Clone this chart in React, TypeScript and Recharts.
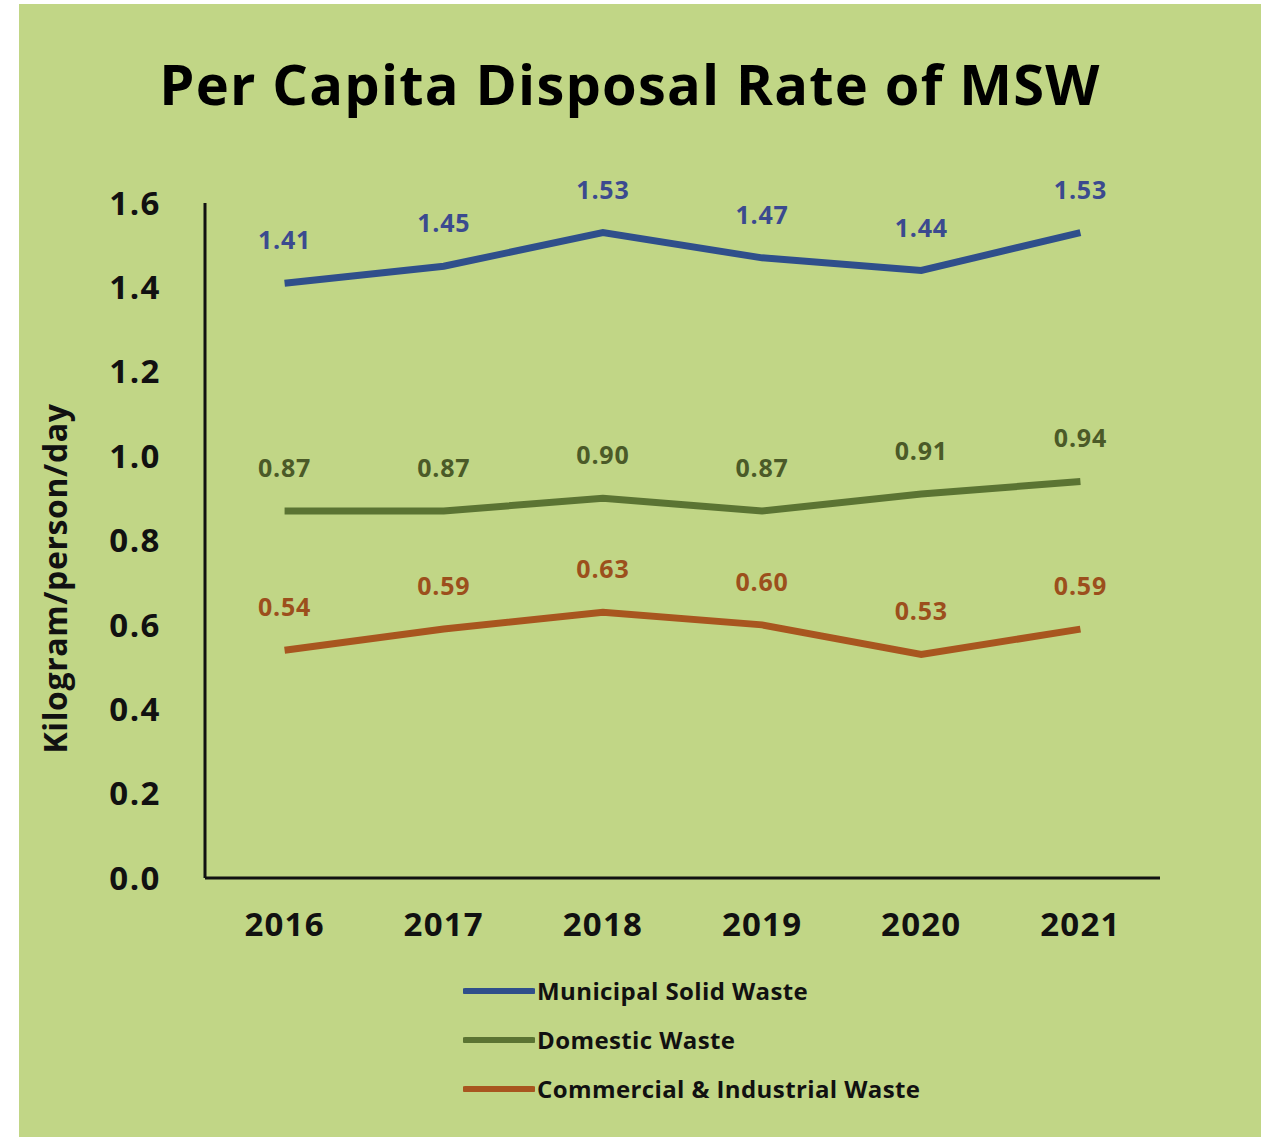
import React from "react";
import { LineChart, Line, XAxis, YAxis, Legend, LabelList, Label } from "recharts";

const years = ["2016", "2017", "2018", "2019", "2020", "2021"];
const municipal = [1.41, 1.45, 1.53, 1.47, 1.44, 1.53];
const domestic = [0.87, 0.87, 0.9, 0.87, 0.91, 0.94];
const commercial = [0.54, 0.59, 0.63, 0.6, 0.53, 0.59];
const yTicks = [0, 0.2, 0.4, 0.6, 0.8, 1.0, 1.2, 1.4, 1.6];

const series = [
  { key: "municipal", name: "Municipal Solid Waste", color: "#2f4f8b", labelColor: "#3b4a8f" },
  { key: "domestic", name: "Domestic Waste", color: "#5b7433", labelColor: "#4b5a28" },
  { key: "commercial", name: "Commercial & Industrial Waste", color: "#a8561f", labelColor: "#9c4f1c" },
];

const data = years.map((year, i) => ({
  year,
  municipal: municipal[i],
  domestic: domestic[i],
  commercial: commercial[i],
}));

const FONT = "'Open Sans', Lato, sans-serif";
const BG = "#c1d686";

function LegendBox() {
  return (
    <div style={{ fontFamily: FONT }}>
      {series.map((s) => (
        <div key={s.key} style={{ display: "flex", alignItems: "center", height: 49 }}>
          <svg width={72} height={10}>
            <line x1={2} y1={5} x2={70} y2={5} stroke={s.color} strokeWidth={6} strokeLinecap="round" />
          </svg>
          <span style={{ fontSize: 24, fontWeight: 700, color: "#111", marginLeft: 2, letterSpacing: 0.4 }}>
            {s.name}
          </span>
        </div>
      ))}
    </div>
  );
}

export default function App() {
  return (
    <div style={{ position: "absolute", left: 19, top: 4, width: 1242, height: 1133, background: BG }}>
      <div
        style={{
          position: "absolute",
          left: 0,
          width: 1222,
          top: 44,
          textAlign: "center",
          fontFamily: FONT,
          fontWeight: 700,
          fontSize: 56,
          letterSpacing: 1.2,
          color: "#000",
          lineHeight: "70px",
        }}
      >
        Per Capita Disposal Rate of MSW
      </div>
      <LineChart
        width={1242}
        height={1133}
        data={data}
        margin={{ top: 199, right: 101, left: 0, bottom: 199 }}
        style={{ position: "absolute", left: 0, top: 0 }}
      >
        <XAxis
          dataKey="year"
          scale="band"
          height={60}
          tickLine={false}
          axisLine={{ stroke: "#111", strokeWidth: 3 }}
          tick={{ fill: "#111", fontSize: 33, fontWeight: 700, fontFamily: FONT, letterSpacing: 1.2 }}
          tickMargin={29}
        />
        <YAxis
          width={186}
          domain={[0, 1.6]}
          ticks={yTicks}
          tickFormatter={(v: number) => v.toFixed(1)}
          tickLine={false}
          axisLine={{ stroke: "#111", strokeWidth: 3 }}
          tick={{ fill: "#111", fontSize: 33, fontWeight: 700, fontFamily: FONT, letterSpacing: 1.5 }}
          tickMargin={38}
        >
          <Label
            content={({ viewBox }: any) => {
              const cx = 35;
              const cy = viewBox.y + viewBox.height / 2 + 38;
              return (
                <text
                  x={cx}
                  y={cy}
                  transform={`rotate(-90, ${cx}, ${cy})`}
                  textAnchor="middle"
                  dominantBaseline="central"
                  fontFamily={FONT}
                  fontWeight={700}
                  fontSize={32}
                  letterSpacing={0.6}
                  fill="#111"
                >
                  Kilogram/person/day
                </text>
              );
            }}
          />
        </YAxis>
        <Legend
          layout="vertical"
          align="center"
          verticalAlign="middle"
          wrapperStyle={{ left: 444, top: 962, width: 560 }}
          content={() => <LegendBox />}
        />
        {series.map((s) => (
          <Line
            key={s.key}
            dataKey={s.key}
            name={s.name}
            stroke={s.color}
            strokeWidth={7}
            dot={false}
            activeDot={false}
            isAnimationActive={false}
          >
            <LabelList
              dataKey={s.key}
              position="top"
              offset={34}
              formatter={(v: number) => v.toFixed(2)}
              style={{ fill: s.labelColor, fontSize: 25, fontWeight: 700, fontFamily: FONT, letterSpacing: 0.8 }}
            />
          </Line>
        ))}
      </LineChart>
    </div>
  );
}
